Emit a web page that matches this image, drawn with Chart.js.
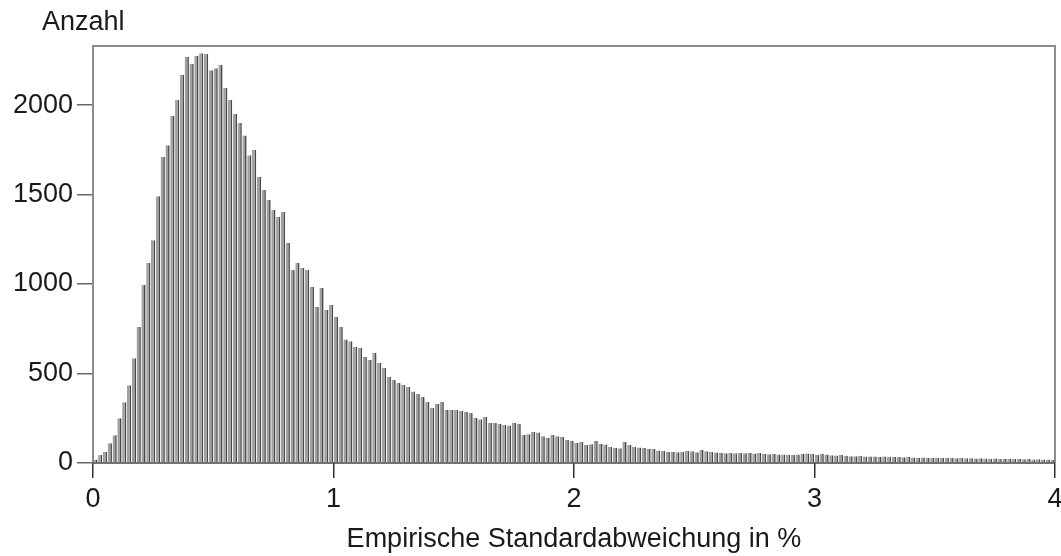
<!DOCTYPE html>
<html>
<head>
<meta charset="utf-8">
<script src="https://cdn.jsdelivr.net/npm/chart.js@4"></script>
<style>
  html, body { margin: 0; padding: 0; background: #fff; }
  #wrap { width: 1061px; height: 556px; position: relative; }
</style>
</head>
<body>
<div id="wrap"><canvas id="c" width="1061" height="556"></canvas></div>
<script>
// Histogram of empirical standard deviations (percent), bin width 0.02
const binWidth = 0.02;
const counts = [
  20, 45, 62, 110, 155, 250, 340, 435, 585, 760,
  995, 1117, 1245, 1490, 1710, 1775, 1940, 2030, 2170, 2270,
  2230, 2275, 2290, 2285, 2195, 2205, 2225, 2095, 2030, 1950,
  1900, 1830, 1720, 1750, 1600, 1525, 1470, 1413, 1375, 1402,
  1229, 1078, 1117, 1089, 1080, 983, 871, 978, 855, 883,
  816, 760, 690, 680, 648, 642, 592, 575, 614, 559,
  531, 480, 464, 447, 436, 425, 400, 385, 369, 341,
  307, 330, 341, 296, 296, 296, 290, 285, 280, 251,
  245, 257, 225, 223, 220, 212, 210, 223, 220, 156,
  160, 173, 170, 150, 140, 156, 150, 145, 128, 125,
  112, 117, 100, 105, 123, 106, 104, 89, 84, 82,
  117, 100, 89, 86, 84, 80, 78, 70, 67, 62,
  61, 60, 61, 67, 66, 60, 73, 65, 61, 58,
  56, 55, 56, 54, 56, 55, 56, 53, 56, 50,
  49, 50, 47, 48, 46, 45, 47, 50, 53, 50,
  45, 52, 48, 44, 42, 45, 40, 38, 38, 40,
  36, 37, 36, 34, 36, 35, 33, 33, 32, 34,
  31, 30, 31, 29, 30, 29, 28, 30, 28, 27,
  28, 26, 27, 25, 26, 25, 24, 25, 23, 24,
  23, 22, 23, 21, 22, 20, 21, 20, 19, 18
];
const xTicks = [0, 1, 2, 3, 4];
const yTicks = [0, 500, 1000, 1500, 2000];
const yLabel = 'Anzahl';
const xLabel = 'Empirische Standardabweichung in %';

const points = counts.map((v, i) => ({ x: (i + 0.5) * binWidth, y: v }));

const FONT = '"Liberation Sans", Arial, sans-serif';
const FS = 27;

// Frame around the plot area plus the vertical axis caption
const framePlugin = {
  id: 'frame',
  afterDraw(chart) {
    const { ctx, chartArea: a } = chart;
    ctx.save();
    ctx.strokeStyle = '#8c8c8c';
    ctx.lineWidth = 2;
    ctx.beginPath();
    ctx.moveTo(a.left, a.bottom);
    ctx.lineTo(a.left, a.top);
    ctx.lineTo(a.right, a.top);
    ctx.lineTo(a.right, a.bottom);
    ctx.stroke();
    ctx.strokeStyle = '#444';
    ctx.lineWidth = 1.5;
    ctx.beginPath();
    ctx.moveTo(a.left, a.bottom);
    ctx.lineTo(a.right, a.bottom);
    ctx.stroke();
    ctx.fillStyle = '#1a1a1a';
    ctx.font = FS + 'px ' + FONT;
    ctx.textAlign = 'left';
    ctx.textBaseline = 'alphabetic';
    ctx.fillText(yLabel, 42, 30);
    ctx.restore();
  }
};

new Chart(document.getElementById('c'), {
  type: 'bar',
  data: {
    datasets: [{
      data: points,
      backgroundColor: '#a0a0a0',
      borderColor: '#484848',
      borderWidth: { left: 0, right: 1.6, top: 0, bottom: 0 },
      borderSkipped: false,
      barPercentage: 1,
      categoryPercentage: 0.88
    }]
  },
  options: {
    responsive: false,
    animation: false,
    devicePixelRatio: 1,
    layout: { padding: { top: 46, right: 6, left: 0, bottom: 0 } },
    plugins: { legend: { display: false }, tooltip: { enabled: false }, title: { display: false } },
    scales: {
      x: {
        type: 'linear',
        min: 0,
        max: 4,
        offset: false,
        afterBuildTicks: s => { s.ticks = xTicks.map(v => ({ value: v })); },
        afterFit: s => { s.height = 93; s.paddingLeft = 0; s.paddingRight = 0; },
        grid: { offset: false, drawOnChartArea: false, drawTicks: true, tickLength: 15, color: '#333', lineWidth: 1.5 },
        border: { display: false },
        ticks: { color: '#1a1a1a', font: { family: FONT, size: FS }, padding: 5, maxRotation: 0, callback: v => String(v) },
        title: { display: true, text: xLabel, color: '#1a1a1a', font: { family: FONT, size: FS }, padding: { top: 6, bottom: 0 } }
      },
      y: {
        min: 0,
        max: 2330,
        afterBuildTicks: s => { s.ticks = yTicks.map(v => ({ value: v })); },
        afterFit: s => { s.width = 93; s.paddingTop = 0; s.paddingBottom = 0; },
        grid: { drawOnChartArea: false, drawTicks: true, tickLength: 16, color: '#666', lineWidth: 1.5 },
        border: { display: false },
        ticks: { color: '#1a1a1a', font: { family: FONT, size: FS }, padding: 4, callback: v => String(v) }
      }
    }
  },
  plugins: [framePlugin]
});
</script>
</body>
</html>
